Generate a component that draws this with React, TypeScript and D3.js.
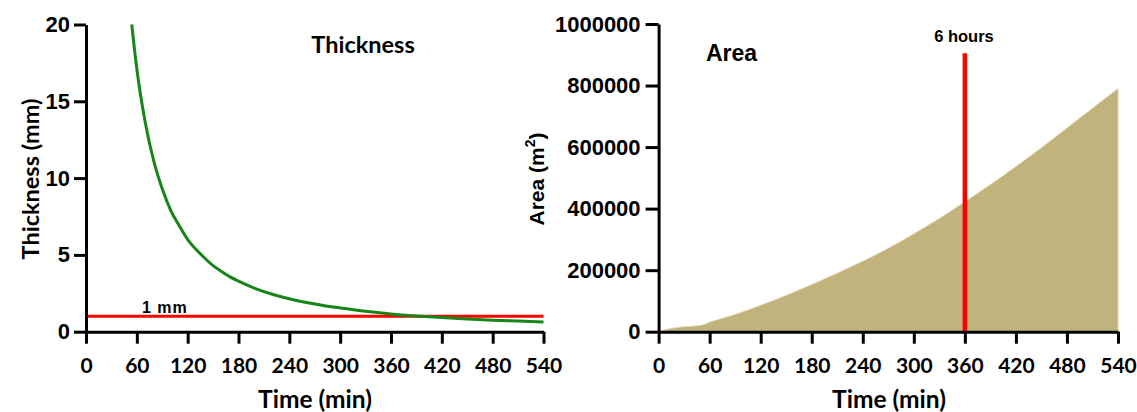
import React, { useEffect, useRef } from 'react';
import * as d3 from 'd3';

// tick labels
const timeTicks: number[] = [0, 60, 120, 180, 240, 300, 360, 420, 480, 540];
const thicknessTicks: number[] = [0, 5, 10, 15, 20];
const areaTicks: number[] = [0, 200000, 400000, 600000, 800000, 1000000];

// slick thickness (min, mm)
const thicknessTime: number[] = [54, 60, 70, 80, 90, 100, 110, 120, 130, 140, 150, 160, 170, 180, 200, 220, 240, 260, 280, 300, 330, 360, 390, 420, 450, 480, 510, 540];
const thicknessMm: number[] = [20.0, 17.1, 13.6, 11.1, 9.3, 7.9, 6.9, 6.0, 5.35, 4.8, 4.3, 3.92, 3.57, 3.29, 2.81, 2.44, 2.15, 1.9, 1.71, 1.55, 1.33, 1.16, 1.03, 0.92, 0.83, 0.75, 0.69, 0.63];

// slick area (min, m2)
const areaTime: number[] = [0, 10, 20, 30, 40, 50, 60, 90, 120, 150, 180, 210, 240, 270, 300, 330, 360, 390, 420, 450, 480, 510, 540];
const areaM2: number[] = [0, 8000, 13000, 16000, 18000, 21000, 31000, 56000, 86000, 118000, 153000, 190000, 229000, 271000, 318000, 368000, 422000, 478000, 537000, 598000, 662000, 726000, 790000];

const limitMm: number = 1;
const markerTime: number = 360;
const markerTop: number = 905000;

const W = 1137;
const H = 412;

export default function App() {
  const ref = useRef<SVGSVGElement>(null);

  useEffect(() => {
    const svg = d3.select(ref.current);
    svg.selectAll('*').remove();

    // ---------- left panel: thickness ----------
    const xL = d3.scaleLinear().domain([0, 540]).range([86, 543.5]);
    const yL = d3.scaleLinear().domain([0, 20]).range([331.7, 24.5]);

    const left = svg.append('g');

    const lineL = d3.line<number>()
      .x((d, i) => xL(thicknessTime[i]))
      .y((d) => yL(d))
      .curve(d3.curveMonotoneX);

    left.append('line')
      .attr('x1', xL(0)).attr('x2', xL(540))
      .attr('y1', yL(limitMm)).attr('y2', yL(limitMm))
      .attr('stroke', '#ff0000').attr('stroke-width', 3);

    left.append('path')
      .datum(thicknessMm)
      .attr('d', lineL)
      .attr('fill', 'none')
      .attr('stroke', '#178517')
      .attr('stroke-width', 3);

    left.append('text')
      .attr('x', 142).attr('y', 313)
      .attr('font-family', 'Liberation Sans, Arial, sans-serif')
      .attr('font-weight', 'bold').attr('font-size', 16)
      .attr('letter-spacing', 1)
      .text('1 mm');

    const axL = left.append('g').attr('transform', `translate(0,${yL(0)})`)
      .call(d3.axisBottom(xL).tickValues(timeTicks).tickSize(12).tickSizeOuter(0).tickPadding(14));
    const ayL = left.append('g').attr('transform', `translate(${xL(0)},0)`)
      .call(d3.axisLeft(yL).tickValues(thicknessTicks).tickSize(12).tickSizeOuter(0).tickPadding(4));

    left.append('text')
      .attr('x', 363).attr('y', 53)
      .attr('text-anchor', 'middle')
      .attr('font-family', 'Lato, sans-serif')
      .attr('font-weight', 'bold').attr('font-size', 23.5)
      .text('Thickness');

    left.append('text')
      .attr('x', 315).attr('y', 408)
      .attr('text-anchor', 'middle')
      .attr('font-family', 'Lato, sans-serif')
      .attr('font-weight', 'bold').attr('font-size', 24.5)
      .text('Time (min)');

    left.append('text')
      .attr('transform', `translate(39,179) rotate(-90)`)
      .attr('text-anchor', 'middle')
      .attr('font-family', 'Lato, sans-serif')
      .attr('font-weight', 'bold').attr('font-size', 23.5)
      .text('Thickness (mm)');

    // ---------- right panel: area ----------
    const xR = d3.scaleLinear().domain([0, 540]).range([658.6, 1118]);
    const yR = d3.scaleLinear().domain([0, 1000000]).range([331.7, 24]);

    const right = svg.append('g');

    const areaR = d3.area<number>()
      .x((d, i) => xR(areaTime[i]))
      .y0(yR(0))
      .y1((d) => yR(d))
      .curve(d3.curveMonotoneX);

    right.append('path')
      .datum(areaM2)
      .attr('d', areaR)
      .attr('fill', '#c0b47c')
      .attr('stroke', '#e6d3b0')
      .attr('stroke-width', 0.8);

    right.append('line')
      .attr('x1', xR(markerTime)).attr('x2', xR(markerTime))
      .attr('y1', yR(0)).attr('y2', yR(markerTop))
      .attr('stroke', '#ff0000').attr('stroke-width', 4.5);

    const axR = right.append('g').attr('transform', `translate(0,${yR(0)})`)
      .call(d3.axisBottom(xR).tickValues(timeTicks).tickSize(12).tickSizeOuter(0).tickPadding(14));
    const ayR = right.append('g').attr('transform', `translate(${xR(0)},0)`)
      .call(d3.axisLeft(yR).tickValues(areaTicks).tickSize(13).tickSizeOuter(0).tickPadding(5)
        .tickFormat((d: any) => String(d)));

    right.append('text')
      .attr('x', 964).attr('y', 42)
      .attr('text-anchor', 'middle')
      .attr('font-family', 'Liberation Sans, Arial, sans-serif')
      .attr('font-weight', 'bold').attr('font-size', 16.5)
      .text('6 hours');

    right.append('text')
      .attr('x', 706).attr('y', 61)
      .attr('font-family', 'Liberation Sans, Arial, sans-serif')
      .attr('font-weight', 'bold').attr('font-size', 23)
      .text('Area');

    right.append('text')
      .attr('x', 889).attr('y', 408)
      .attr('text-anchor', 'middle')
      .attr('font-family', 'Lato, sans-serif')
      .attr('font-weight', 'bold').attr('font-size', 24.5)
      .text('Time (min)');

    const yTitle = right.append('text')
      .attr('transform', `translate(543.5,179) rotate(-90)`)
      .attr('text-anchor', 'middle')
      .attr('font-family', 'Liberation Sans, Arial, sans-serif')
      .attr('font-weight', 'bold').attr('font-size', 21);
    yTitle.append('tspan').text('Area (m');
    yTitle.append('tspan').attr('dy', -9).attr('font-size', 14).text('2');
    yTitle.append('tspan').attr('dy', 9).text(')');

    // ---------- shared axis styling ----------
    [axL, ayL, axR, ayR].forEach((g: any) => {
      g.select('.domain').attr('stroke', '#000').attr('stroke-width', 3);
      g.selectAll('.tick line').attr('stroke', '#000').attr('stroke-width', 3);
      g.selectAll('.tick text').attr('fill', '#000').attr('font-weight', 'bold');
    });
    [axL, axR].forEach((g: any) => {
      g.attr('font-family', 'Lato, sans-serif').attr('font-size', 21);
    });
    [ayL, ayR].forEach((g: any) => {
      g.attr('font-family', 'Liberation Sans, Arial, sans-serif').attr('font-size', 22);
    });
  }, []);

  return (
    <svg
      ref={ref}
      width={W}
      height={H}
      viewBox={`0 0 ${W} ${H}`}
      style={{ position: 'absolute', left: 0, top: 0, background: '#fff' }}
    />
  );
}
